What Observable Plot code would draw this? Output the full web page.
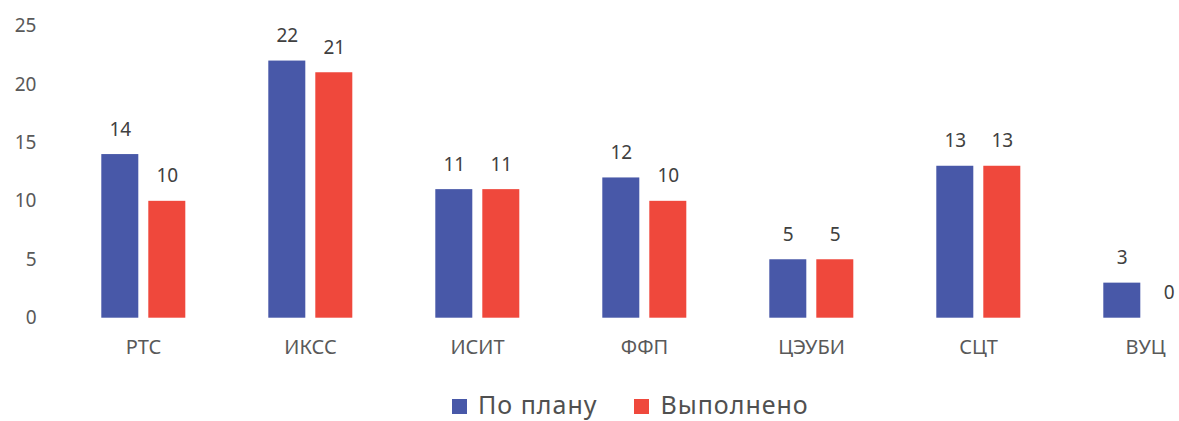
<!DOCTYPE html>
<html>
<head>
<meta charset="utf-8">
<script src="https://cdn.jsdelivr.net/npm/d3@7"></script>
<script src="https://cdn.jsdelivr.net/npm/@observablehq/plot@0.6"></script>
<style>
  html, body { margin: 0; padding: 0; background: #fff; overflow: hidden; width: 1179px; height: 421px; }
  #chart svg { display: block; }
  .legend { position: absolute; top: 391px; left: 452px; display: flex; align-items: center; font-family: "Noto Sans", sans-serif; font-size: 25px; line-height: 1.1; letter-spacing: 1px; color: #505050; }
  .legend .item { display: flex; align-items: center; }
  .legend .sw { width: 15px; height: 15px; margin-right: 11px; margin-top: 3px; }
  .legend .item + .item { margin-left: 37px; }
</style>
</head>
<body>
<div id="chart"></div>
<div class="legend" id="legend"></div>
<script>
const categories = ["РТС", "ИКСС", "ИСИТ", "ФФП", "ЦЭУБИ", "СЦТ", "ВУЦ"];
const series = ["По плану", "Выполнено"];
const plan = [14, 22, 11, 12, 5, 13, 3];
const done = [10, 21, 11, 10, 5, 13, 0];
const colors = ["#4858a8", "#ef483c"];
const yTicks = [0, 5, 10, 15, 20, 25];

const data = [];
categories.forEach((c, i) => {
  data.push({cat: c, series: series[0], value: plan[i]});
  data.push({cat: c, series: series[1], value: done[i]});
});

const chart = Plot.plot({
  width: 1231,
  height: 372,
  marginLeft: 57.7,
  marginRight: 0,
  marginTop: 25.5,
  marginBottom: 54.3,
  style: {fontFamily: "Noto Sans", color: "#595959", background: "white", maxWidth: "none", overflow: "visible"},
  fx: {domain: categories, paddingInner: 0.496, paddingOuter: 0.248, label: null},
  x: {domain: series, paddingInner: 0.22, paddingOuter: 0, axis: null},
  y: {domain: [0, 25], label: null},
  color: {domain: series, range: colors},
  marks: [
    Plot.axisY({ticks: yTicks, tickSize: 0, tickPadding: 65, fontSize: 19, label: null}),
    Plot.axisFx({anchor: "bottom", tickSize: 0, tickPadding: 22, fontSize: 20, label: null}),
    Plot.barY(data, {fx: "cat", x: "series", y: "value", fill: "series"}),
    Plot.text(data, {fx: "cat", x: "series", y: "value", text: d => String(d.value), dy: -25, lineAnchor: "middle", fontSize: 19, fill: "#404040"})
  ]
});
document.getElementById("chart").appendChild(chart);

const legend = document.getElementById("legend");
series.forEach((s, i) => {
  const item = document.createElement("div");
  item.className = "item";
  const sw = document.createElement("span");
  sw.className = "sw";
  sw.style.background = colors[i];
  const t = document.createElement("span");
  t.textContent = s;
  item.appendChild(sw);
  item.appendChild(t);
  legend.appendChild(item);
});
</script>
</body>
</html>
